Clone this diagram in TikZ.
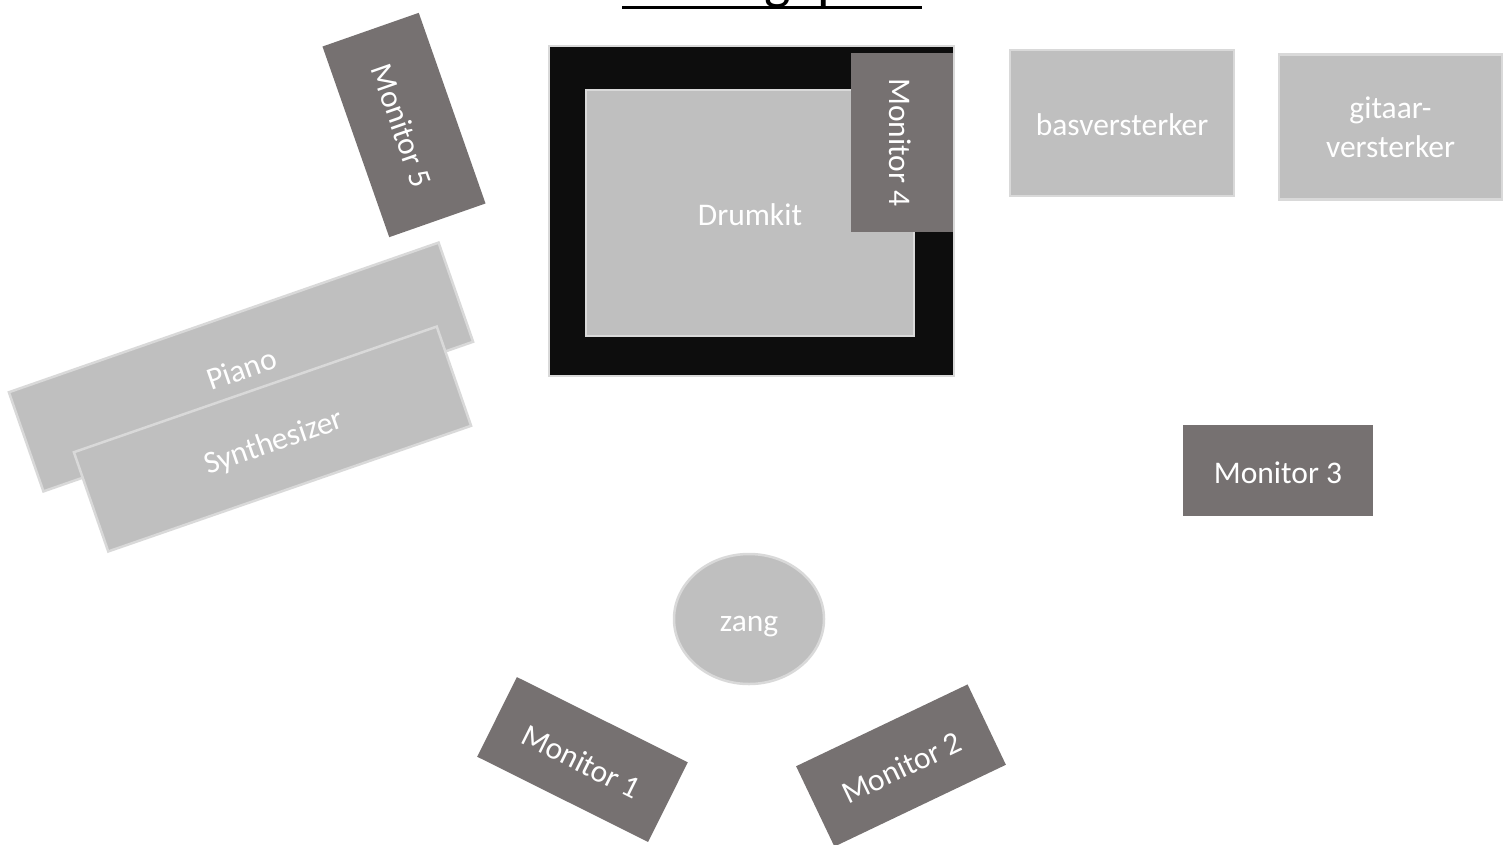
\documentclass[tikz,border=0pt]{standalone}
\usepackage{fontspec}
\setmainfont{Carlito}
\usetikzlibrary{shapes.geometric}
\definecolor{gearfill}{HTML}{BFBFBF}
\definecolor{gearedge}{HTML}{D9D9D9}
\definecolor{monfill}{HTML}{767171}
\definecolor{drumblack}{HTML}{0D0D0D}

\begin{document}
\begin{tikzpicture}[
    x=1pt, y=-1pt,
    txt/.style={font=\fontsize{31.5}{39}\selectfont, text height=32pt, text depth=6.3pt},
    gear/.style={draw=gearedge, line width=2.5, fill=gearfill, text=white, inner sep=0, txt},
    monitor/.style={fill=monfill, text=white, inner sep=0, txt}
]
    \useasboundingbox (0,0) rectangle (1510,844);

    % title, mostly above the page
    \node[anchor=base, font=\fontsize{56}{60}\selectfont] (title) at (801,-1.5) {Stageplot};
    \draw[line width=3] (622,7.5) -- (922,7.5);

    % drums
    \node[draw=gearedge, line width=2.5, fill=drumblack, inner sep=0,
        minimum width=405, minimum height=330] (riser) at (751.5,211) {};
    \node[gear, minimum width=328, minimum height=246] (drums) at (750,213) {Drumkit};
    \node[monitor, rotate=-90, minimum width=179, minimum height=102] (mon4) at (902,142.5) {Monitor 4};

    % amps
    \node[gear, minimum width=224, minimum height=146] (bas) at (1122,123) {basversterker};
    \node[gear, text height=, text depth=, minimum width=223, minimum height=145, align=center] (gitaar) at (1390.5,127) {gitaar-\\versterker};

    % keys
    \node[monitor, rotate=-70.7, minimum width=202, minimum height=102] (mon5) at (404,125) {Monitor 5};
    \node[gear, rotate=19.2, minimum width=455, minimum height=105] (piano) at (241,367) {Piano};
    \node[gear, rotate=19.1, minimum width=384, minimum height=105] (synth) at (272.5,439) {Synthesizer};

    % front
    \node[monitor, minimum width=190, minimum height=91] (mon3) at (1278,470.5) {Monitor 3};
    \node[gear, ellipse, minimum width=150, minimum height=130] (zang) at (749,619) {zang};
    \node[monitor, rotate=-26.5, minimum width=191, minimum height=89] (mon1) at (582.5,759.5) {Monitor 1};
    \node[monitor, rotate=25.5, minimum width=190, minimum height=89] (mon2) at (901,765.5) {Monitor 2};
\end{tikzpicture}
\end{document}
